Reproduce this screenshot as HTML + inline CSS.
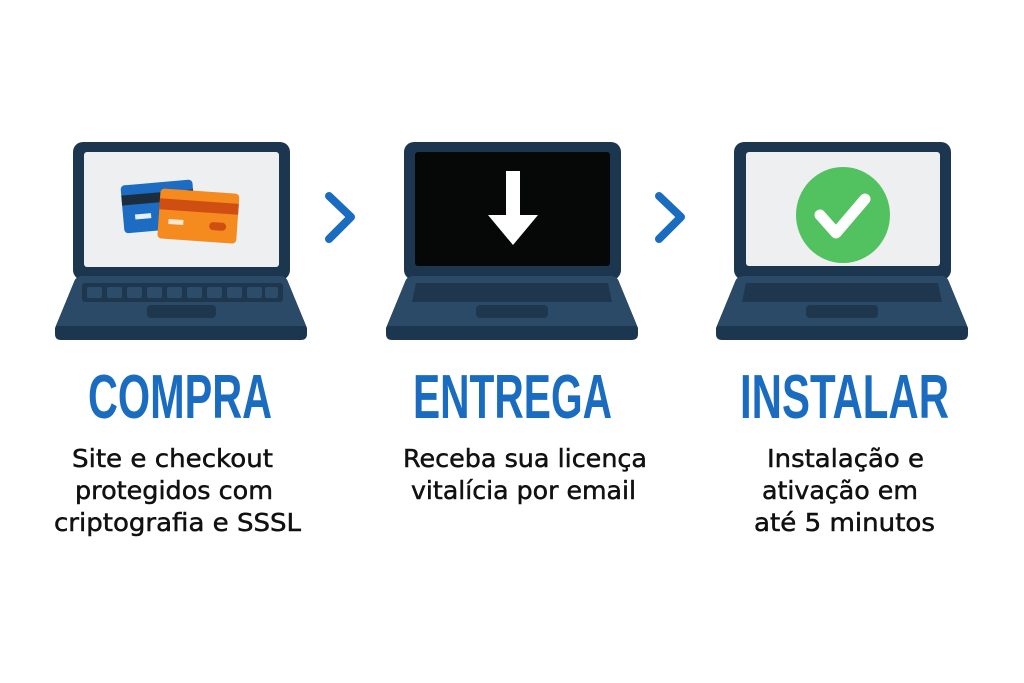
<!DOCTYPE html>
<html><head><meta charset="utf-8"><style>
html,body{margin:0;padding:0;background:#fff;}
svg{display:block}
.t{font-family:"Liberation Sans",sans-serif;font-weight:bold;fill:#1a6cc0;font-size:62px}
.b{font-family:"DejaVu Sans","Liberation Sans",sans-serif;fill:#111;font-size:25px;stroke:#111;stroke-width:0.5}
</style></head><body>
<svg width="1024" height="683" viewBox="0 0 1024 683" xmlns="http://www.w3.org/2000/svg">

<!-- Laptop 1 -->
<g transform="translate(55,142)">
  <rect x="18" y="0" width="217" height="138" rx="10" fill="#1d3650"/>
  <rect x="29" y="10" width="195" height="115" rx="3" fill="#eeeff0"/>
  <path d="M28,134 L225,134 Q231,134 233,140 L252,186 L252,192 Q252,198 246,198 L6,198 Q0,198 0,192 L0,186 L19,140 Q21,134 28,134 Z" fill="#1d3650"/>
  <path d="M28,134 L225,134 Q231,134 233,140 L251,184 L1,184 L19,140 Q21,134 28,134 Z" fill="#2a4a68"/>
  <rect x="27" y="141" width="201" height="19" rx="3" fill="#1e374f"/>
  <g fill="#2c4c6a">
    <rect x="32" y="145" width="15" height="11" rx="2"/><rect x="52" y="145" width="15" height="11" rx="2"/>
    <rect x="72" y="145" width="15" height="11" rx="2"/><rect x="92" y="145" width="15" height="11" rx="2"/>
    <rect x="112" y="145" width="15" height="11" rx="2"/><rect x="132" y="145" width="15" height="11" rx="2"/>
    <rect x="152" y="145" width="15" height="11" rx="2"/><rect x="172" y="145" width="15" height="11" rx="2"/>
    <rect x="192" y="145" width="15" height="11" rx="2"/><rect x="210" y="145" width="13" height="11" rx="2"/>
  </g>
  <rect x="92" y="163" width="69" height="13" rx="4" fill="#1e374f"/>
  <g transform="rotate(-5 108 60)">
    <rect x="67" y="40" width="72" height="48" rx="4" fill="#1b6cc2"/>
    <rect x="67" y="50" width="72" height="10" fill="#1c2d3e"/>
    <rect x="79" y="70" width="16" height="5" fill="#e6eef8"/>
  </g>
  <g transform="rotate(4 143 72)">
    <rect x="104" y="49" width="79" height="50" rx="4" fill="#f58a1f"/>
    <rect x="104" y="59" width="79" height="11" fill="#cf4f12"/>
    <rect x="114" y="79" width="15" height="5" fill="#fde7cf"/>
    <rect x="155" y="79" width="17" height="8" rx="4" fill="#cf4f12"/>
  </g>
</g>

<!-- Laptop 2 -->
<g transform="translate(386,142)">
  <rect x="18" y="0" width="217" height="138" rx="10" fill="#1d3650"/>
  <rect x="29" y="10" width="195" height="114" rx="3" fill="#060707"/>
  <path d="M28,134 L225,134 Q231,134 233,140 L252,186 L252,192 Q252,198 246,198 L6,198 Q0,198 0,192 L0,186 L19,140 Q21,134 28,134 Z" fill="#1d3650"/>
  <path d="M28,134 L225,134 Q231,134 233,140 L251,184 L1,184 L19,140 Q21,134 28,134 Z" fill="#2a4a68"/>
  <path d="M30,141 L222,141 L226,160 L26,160 Z" fill="#1e374f"/>
  <rect x="90" y="163" width="72" height="13" rx="4" fill="#1e374f"/>
  <rect x="120" y="29" width="14" height="45" fill="#fff"/>
  <path d="M102,73 L152,73 L127,103 Z" fill="#fff"/>
</g>

<!-- Laptop 3 -->
<g transform="translate(716,142)">
  <rect x="18" y="0" width="217" height="138" rx="10" fill="#1d3650"/>
  <rect x="30" y="10" width="194" height="114" rx="3" fill="#eeeff0"/>
  <path d="M28,134 L225,134 Q231,134 233,140 L252,186 L252,192 Q252,198 246,198 L6,198 Q0,198 0,192 L0,186 L19,140 Q21,134 28,134 Z" fill="#1d3650"/>
  <path d="M28,134 L225,134 Q231,134 233,140 L251,184 L1,184 L19,140 Q21,134 28,134 Z" fill="#2a4a68"/>
  <path d="M30,141 L222,141 L226,160 L26,160 Z" fill="#1e374f"/>
  <rect x="90" y="163" width="72" height="13" rx="4" fill="#1e374f"/>
  <ellipse cx="127" cy="73" rx="47" ry="48" fill="#52c15f"/>
  <path d="M104,73 L120,91 L149,57" fill="none" stroke="#fff" stroke-width="11" stroke-linecap="round" stroke-linejoin="round"/>
</g>

<path d="M329,196 L351,217 L329,239" fill="none" stroke="#1a6cc0" stroke-width="8" stroke-linecap="round" stroke-linejoin="round"/>
<path d="M659,196 L681,217 L659,239" fill="none" stroke="#1a6cc0" stroke-width="8" stroke-linecap="round" stroke-linejoin="round"/>

<text class="t" x="88" y="418" textLength="184" lengthAdjust="spacingAndGlyphs">COMPRA</text>
<text class="t" x="413" y="418" textLength="199" lengthAdjust="spacingAndGlyphs">ENTREGA</text>
<text class="t" x="740" y="418" textLength="209" lengthAdjust="spacingAndGlyphs">INSTALAR</text>

<g class="b">
  <text x="72" y="467" textLength="201" lengthAdjust="spacingAndGlyphs">Site e checkout</text>
  <text x="75" y="499" textLength="198" lengthAdjust="spacingAndGlyphs">protegidos com</text>
  <text x="54" y="531" textLength="247" lengthAdjust="spacingAndGlyphs">criptografia e SSSL</text>
  <text x="403" y="467" textLength="244" lengthAdjust="spacingAndGlyphs">Receba sua licença</text>
  <text x="411" y="499" textLength="225" lengthAdjust="spacingAndGlyphs">vitalícia por email</text>
  <text x="767" y="467" textLength="157" lengthAdjust="spacingAndGlyphs">Instalação e</text>
  <text x="762" y="499" textLength="156" lengthAdjust="spacingAndGlyphs">ativação em</text>
  <text x="754" y="531" textLength="181" lengthAdjust="spacingAndGlyphs">até 5 minutos</text>
</g>
</svg>
</body></html>
